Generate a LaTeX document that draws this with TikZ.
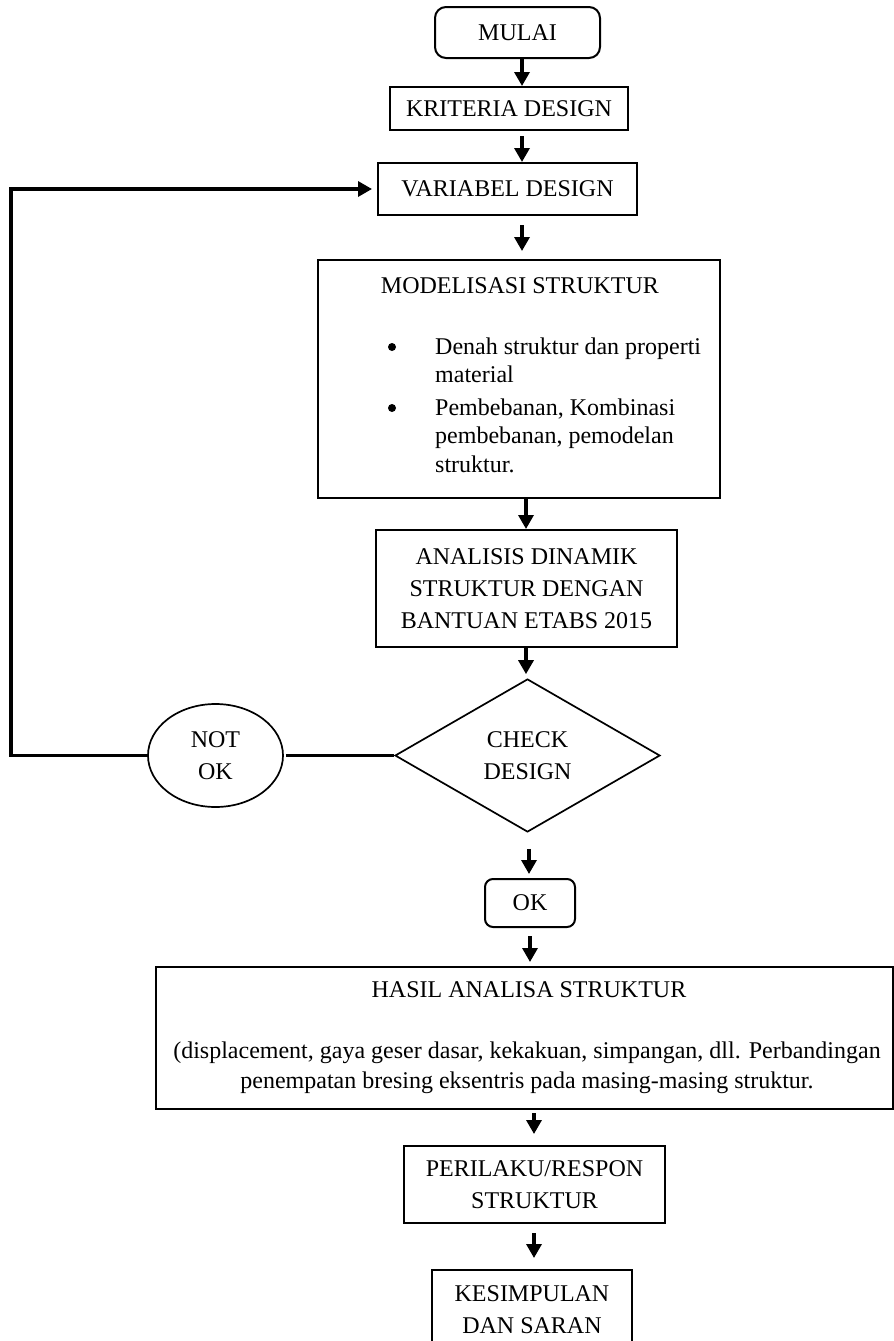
\documentclass[tikz,border=0pt]{standalone}
\usepackage{fontspec}
\setmainfont{Liberation Serif}
\usetikzlibrary{shapes.geometric,arrows.meta}
\begin{document}
\begin{tikzpicture}[x=1pt,y=-1pt,
  every node/.style={font=\fontsize{24}{32}\selectfont, align=center},
  box/.style={draw, line width=2pt, inner sep=0pt},
  rbox/.style={box, rounded corners=11pt},
  arr/.style={line width=3.3pt, -{Triangle[width=15pt,length=14pt]}},
  loopline/.style={line width=3.3pt},
  bulletdot/.style={circle, fill, inner sep=0pt, minimum size=8pt},
]
\path[use as bounding box, clip] (0,0) rectangle (894,1341);
% boxes
\node[rbox, minimum width=165pt, minimum height=51pt] (mulai) at (517.5,32.5) {MULAI};
\node[box, minimum width=238pt, minimum height=43pt] (krit) at (509,108.5) {KRITERIA DESIGN};
\node[box, minimum width=259pt, minimum height=52pt] (var) at (507.5,189) {VARIABEL DESIGN};
\node[box, minimum width=402pt, minimum height=238pt] (model) at (519,379) {};
\node[anchor=base] (modelT) at (520,293) {MODELISASI STRUKTUR};
\node[bulletdot] (bul1) at (392,347) {};
\node[bulletdot] (bul2) at (392,408) {};
\node[anchor=base west, inner sep=0pt] (item1) at (435,354)
  {\parbox[t]{285pt}{\raggedright\fontsize{24}{28.5}\selectfont Denah struktur dan properti\\ material}};
\node[anchor=base west, inner sep=0pt] (item2) at (435,415)
  {\parbox[t]{285pt}{\raggedright\fontsize{24}{28.5}\selectfont Pembebanan, Kombinasi\\ pembebanan, pemodelan\\ struktur.}};
\node[box, minimum width=301pt, minimum height=117pt] (anal) at (526.5,588.5)
  {ANALISIS DINAMIK\\STRUKTUR DENGAN\\BANTUAN ETABS 2015};
\node[draw, diamond, line width=1.7pt, aspect=1.73, inner sep=0pt,
  minimum width=265pt, minimum height=153pt] (check) at (527.5,755.5) {CHECK\\DESIGN};
\node[draw, ellipse, line width=1.7pt, inner sep=0pt,
  minimum width=135pt, minimum height=103pt] (notok) at (215.5,755.5) {NOT\\OK};
\node[rbox, rounded corners=8pt, minimum width=90pt, minimum height=48pt] (ok) at (530,903) {OK};
\node[box, minimum width=737pt, minimum height=142pt] (hasil) at (524.5,1038) {};
\node[anchor=base] (hasilT) at (529,997) {HASIL ANALISA STRUKTUR};
\node[anchor=base, inner sep=0pt] (hasilP) at (527,1058)
  {\parbox[t]{735pt}{\centering\fontsize{24}{30}\selectfont (displacement, gaya geser dasar, kekakuan, simpangan, dll. Perbandingan\\ penempatan bresing eksentris pada masing-masing struktur.}};
\node[box, minimum width=261pt, minimum height=77pt] (peri) at (534.5,1184.5)
  {PERILAKU/RESPON\\STRUKTUR};
\node[box, minimum width=200pt, minimum height=110pt] (kes) at (532,1325) {};
\node[anchor=base] (kesT) at (532,1333) {KESIMPULAN\\DAN SARAN};
% connectors
\coordinate (lt) at (11,189);
\draw[arr] (mulai.south -| 522,0) -- (krit.north -| 522,0);
\draw[arr, shorten <=5pt] (krit.south -| 522,0) -- (var.north -| 522,0);
\draw[arr, shorten <=9pt, shorten >=8pt] (var.south -| 522,0) -- (model.north -| 522,0);
\draw[arr] (model.south -| 526,0) -- (anal.north -| 526,0);
\draw[arr, shorten >=4pt] (anal.south -| 526,0) -- (check.north -| 526,0);
\draw[arr, shorten <=16pt, shorten >=4pt] (check.south -| 529,0) -- (ok.north -| 529,0);
\draw[arr, shorten <=8pt, shorten >=4pt] (ok.south -| 530,0) -- (hasil.north -| 530,0);
\draw[arr, shorten <=3pt, shorten >=11pt] (hasil.south -| 534,0) -- (peri.north -| 534,0);
\draw[arr, shorten <=9pt, shorten >=11pt] (peri.south -| 534,0) -- (kes.north -| 534,0);
\draw[arr, loopline, shorten >=5pt] (notok.west) -- (notok.west -| lt) -- (lt) -- (var.west);
\draw[loopline, shorten <=2pt] (notok.east) -- (check.west);
\end{tikzpicture}
\end{document}
